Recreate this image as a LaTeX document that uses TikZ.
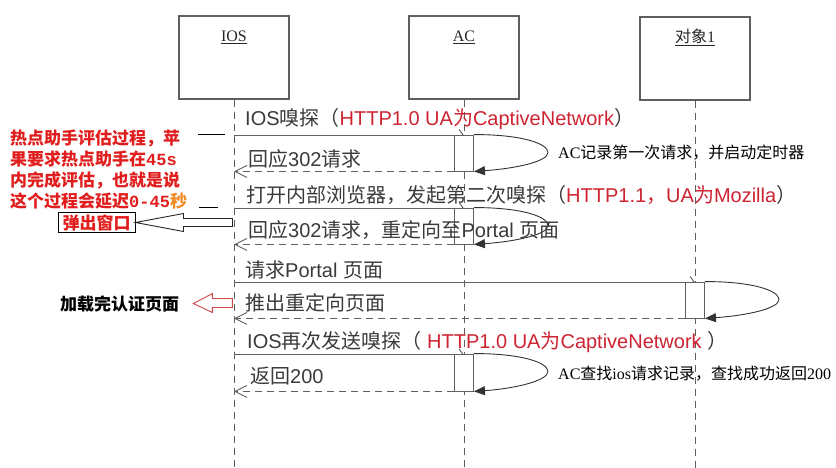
\documentclass[tikz,border=0pt]{standalone}
\usepackage{fontspec}
\setmainfont{Liberation Sans}
\newfontfamily\cjkfont{Noto Sans CJK SC}
\newfontfamily\timesfont{Liberation Serif}
\newfontfamily\courfont{Liberation Mono}
\usetikzlibrary{arrows.meta}
\definecolor{msggray}{RGB}{58,58,58}
\definecolor{linegray}{RGB}{95,95,95}
\definecolor{httpred}{RGB}{205,35,50}
\definecolor{notered}{RGB}{225,30,30}
\definecolor{noteorange}{RGB}{240,140,40}
\definecolor{arrowred}{RGB}{210,70,70}
\newcommand\zh[1]{{\cjkfont #1}}
\newcommand\hl[1]{\textcolor{httpred}{#1}}

\begin{document}
\begin{tikzpicture}[x=1pt, y=-1pt,
    headbox/.style={draw=linegray, line width=1.1pt, minimum width=110pt, minimum height=83pt, inner sep=0pt},
    headlabel/.style={inner sep=0pt, text=black!85, font=\timesfont\fontsize{16}{18}\selectfont},
    lifeline/.style={draw=linegray, line width=0.8pt, dash pattern=on 7pt off 5pt},
    actbox/.style={draw=linegray, fill=white, line width=0.9pt, minimum width=19pt, minimum height=36pt, inner sep=0pt},
    msg/.style={draw=linegray, line width=0.9pt, -{Straight Barb[left,length=4pt,width=11pt]}},
    ret/.style={draw=linegray, line width=0.9pt, dash pattern=on 7pt off 5pt, -{Straight Barb[length=12pt,width=12pt]}},
    selfcall/.style={draw=black!80, line width=0.9pt, -{Triangle[length=11pt,width=9pt]}},
    msgtext/.style={anchor=base west, inner sep=0pt, text=msggray, font=\fontsize{20}{24}\selectfont},
    notetext/.style={anchor=base west, inner sep=0pt, text=black, font=\cjkfont\fontsize{16}{18}\selectfont},
    redtext/.style={inner sep=0pt, text=notered, font=\cjkfont\bfseries\fontsize{17}{21}\selectfont}]
    \useasboundingbox (0,0) rectangle (836,468);
    \coordinate (bottom) at (0,468);

    % objects
    \node[headbox] (ios) at (234,57.5) {};
    \node[headbox] (ac) at (464,57.5) {};
    \node[headbox] (obj) at (695,58.5) {};
    \node[headlabel] at ([yshift=20.5pt]ios.center) {\underline{IOS}};
    \node[headlabel] at ([yshift=20.5pt]ac.center) {\underline{AC}};
    \node[headlabel] at ([yshift=21pt]obj.center) {\underline{\zh{对象}1}};

    \draw[lifeline] (ios.south) -- (ios.south |- bottom);
    \draw[lifeline] (ac.south) -- (ac.south |- bottom);
    \draw[lifeline] (obj.south) -- (obj.south |- bottom);

    % activations
    \coordinate (a1) at (464,153);
    \coordinate (a2) at (464,226);
    \coordinate (a3) at (695,300);
    \coordinate (a4) at (464,372.5);

    \draw[msg] (ios |- 0,135) -- (ac |- 0,135);
    \draw[msg] (ios |- 0,208) -- (ac |- 0,208);
    \draw[msg] (ios |- 0,282) -- (obj |- 0,282);
    \draw[msg] (ios |- 0,354.5) -- (ac |- 0,354.5);

    \node[actbox] (act1) at (a1) {};
    \node[actbox] (act2) at (a2) {};
    \node[actbox] (act3) at (a3) {};
    \node[actbox, minimum height=37pt] (act4) at (a4) {};

    \draw[ret] (act1.south west) -- (ios |- act1.south);
    \draw[ret] (act2.south west) -- (ios |- act2.south);
    \draw[ret] (act3.south west) -- (ios |- act3.south);
    \draw[ret] (act4.south west) -- (ios |- act4.south);

    \draw[selfcall] (act1.north east) .. controls +(48,0) and +(0,-9) .. ++(74,18) .. controls +(0,9) and +(42,-3) .. (act1.south east);
    \draw[selfcall] (act2.north east) .. controls +(48,0) and +(0,-9) .. ++(74,18) .. controls +(0,9) and +(42,-3) .. (act2.south east);
    \draw[selfcall] (act3.north east) .. controls +(48,0) and +(0,-9) .. ++(74,18) .. controls +(0,9) and +(42,-3) .. (act3.south east);
    \draw[selfcall] (act4.north east) .. controls +(48,0) and +(0,-9) .. ++(74,18) .. controls +(0,9) and +(42,-3) .. (act4.south east);

    % message texts
    \node[msgtext] (t1) at (245,126) {IOS\zh{嗅探（}\hl{HTTP1.0 UA\zh{为}CaptiveNetwork}\zh{）}};
    \node[msgtext] (t2) at (248,167) {\zh{回应}302\zh{请求}};
    \node[msgtext] (t3) at (246,203) {\zh{打开内部浏览器，发起第二次嗅探（}\hl{HTTP1.1\zh{，}UA\zh{为}Mozilla}\zh{）}};
    \node[msgtext] (t4) at (248,237) {\zh{回应}302\zh{请求，重定向至}Portal \zh{页面}};
    \node[msgtext] (t5) at (245,277) {\zh{请求}Portal \zh{页面}};
    \node[msgtext] (t6) at (245,310) {\zh{推出重定向页面}};
    \node[msgtext] (t7) at (247,348) {IOS\zh{再次发送嗅探（} \hl{HTTP1.0 UA\zh{为}CaptiveNetwork} \zh{）}};
    \node[msgtext] (t8) at (250,383) {\zh{返回}200};

    \node[notetext] (n1) at (558,159) {{\timesfont AC}记录第一次请求，并启动定时器};
    \node[notetext] (n2) at (558,379) {{\timesfont AC}查找{\timesfont ios}请求记录，查找成功返回{\timesfont 200}};

    % left side notes
    \draw[black, line width=1pt] (198,134.5) -- (225,134.5);
    \draw[black, line width=1pt] (199,208) -- (218,208);
    \node[redtext, anchor=north west, align=left] (assess) at (10,130)
        {热点助手评估过程，苹\\果要求热点助手在{\courfont 45s}\\内完成评估，也就是说\\这个过程会延迟{\courfont 0-45}\textcolor{noteorange}{秒}};
    \node[redtext, draw=black, line width=1pt, minimum width=77pt, minimum height=19pt] (popup) at (96.5,222.5) {弹出窗口};
    \draw[black!85, line width=0.9pt, fill=white] (popup.east) -- ++(48,-9) -- ++(0,5) -- ++(49,0) -- ++(0,8) -- ++(-49,0) -- ++(0,5) -- cycle;
    \node[redtext, anchor=base west, text=black] (loaded) at (60,310) {加载完认证页面};
    \draw[arrowred, line width=0.9pt, fill=white] ([xshift=14pt]loaded.east) -- ++(19,-10) -- ++(0,5) -- ++(20,0) -- ++(0,9) -- ++(-20,0) -- ++(0,5) -- cycle;
\end{tikzpicture}
\end{document}
